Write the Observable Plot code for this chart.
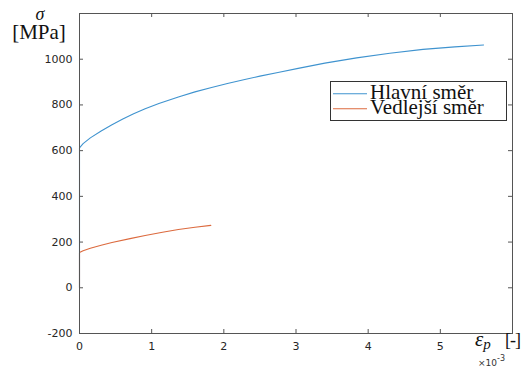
<!DOCTYPE html>
<html><head><meta charset="utf-8">
<script src="https://cdn.jsdelivr.net/npm/d3@7"></script>
<script src="https://cdn.jsdelivr.net/npm/@observablehq/plot@0.6"></script>
<style>body{margin:0;background:#fff} #chart{width:526px;height:374px}</style>
</head><body><div id="chart"></div>
<script>
// Series names and colours
const seriesNames = ["Hlavní směr", "Vedlejší směr"];
const seriesColors = ["#3f93cf", "#dc6a3e"];

// Hlavní směr: plastic strain (×10^-3) and stress (MPa)
const hlavniStrain = [0, 0, 0.05, 0.15, 0.3, 0.45, 0.6, 0.75, 0.91, 1.1, 1.37, 1.6, 1.83, 2.05, 2.29, 2.5, 2.75, 3.03, 3.4, 3.84, 4.3, 4.76, 5.2, 5.6];
const hlavniStress = [0, 612, 631, 656, 686, 713, 738, 761, 783, 806, 835, 857, 876, 894, 911, 926, 942, 960, 983, 1006, 1026, 1043, 1054, 1062];

// Vedlejší směr
const vedlejsiStrain = [0, 0, 0.05, 0.15, 0.3, 0.45, 0.7, 0.91, 1.15, 1.37, 1.6, 1.82];
const vedlejsiStress = [0, 154, 162, 173, 186, 198, 215, 229, 243, 255, 265, 273];

// Axis ticks
const xTicks = [0, 1, 2, 3, 4, 5];
const yTicks = [-200, 0, 200, 400, 600, 800, 1000];
const xDomain = [0, 6];
const yDomain = [-200, 1200];

const W = 526, H = 374, mL = 79, mR = 14, mT = 13, mB = 41;
const innerH = H - mT - mB, innerW = W - mL - mR;
const axisColor = "#555";
const tick = 4;

const hlavni = hlavniStrain.map((x, i) => ({x, y: hlavniStress[i]}));
const vedlejsi = vedlejsiStrain.map((x, i) => ({x, y: vedlejsiStress[i]}));

const plot = Plot.plot({
  width: W, height: H,
  marginLeft: mL, marginRight: mR, marginTop: mT, marginBottom: mB,
  style: {fontFamily: "DejaVu Sans", fontSize: "11px", color: "#262626", background: "#fff"},
  x: {domain: xDomain},
  y: {domain: yDomain},
  marks: [
    Plot.line(hlavni, {x: "x", y: "y", stroke: seriesColors[0], strokeWidth: 1.1}),
    Plot.line(vedlejsi, {x: "x", y: "y", stroke: seriesColors[1], strokeWidth: 1.1}),
    Plot.frame({stroke: axisColor}),
    Plot.ruleX(xTicks, {x: d => d, insetTop: innerH - tick, stroke: axisColor}),
    Plot.ruleX(xTicks, {x: d => d, insetBottom: innerH - tick, stroke: axisColor}),
    Plot.ruleY(yTicks, {y: d => d, insetRight: innerW - tick, stroke: axisColor}),
    Plot.ruleY(yTicks, {y: d => d, insetLeft: innerW - tick, stroke: axisColor}),
    Plot.axisX(xTicks, {anchor: "bottom", tickSize: 0, tickPadding: 9, label: null, tickFormat: d => String(d)}),
    Plot.axisY(yTicks, {anchor: "left", tickSize: 0, tickPadding: 7, label: null, tickFormat: d => String(d)})
  ]
});
document.getElementById("chart").appendChild(plot);

const svg = d3.select(plot);
const serif = "Liberation Serif";
// y label
svg.append("text").attr("x", 40).attr("y", 20).attr("text-anchor", "middle")
  .attr("font-family", serif).attr("font-style", "italic").attr("font-size", 18).attr("fill", "#111").text("σ");
svg.append("text").attr("x", 39).attr("y", 39).attr("text-anchor", "middle")
  .attr("font-family", serif).attr("font-size", 21).attr("fill", "#111").text("[MPa]");
// x label
const xl = svg.append("text").attr("x", 475).attr("y", 346).attr("text-anchor", "start")
  .attr("font-family", serif).attr("font-size", 21).attr("fill", "#111");
xl.append("tspan").attr("font-style", "italic").text("ε");
xl.append("tspan").attr("font-style", "italic").attr("font-size", 15).attr("dy", 3).text("p");
svg.append("text").attr("x", 505).attr("y", 346).attr("text-anchor", "start")
  .attr("font-family", serif).attr("font-size", 18).attr("letter-spacing", -1).attr("fill", "#111").text("[-]");
// exponent
const ex = svg.append("text").attr("x", 478).attr("y", 366).attr("text-anchor", "start")
  .attr("font-family", "DejaVu Sans").attr("font-size", 9).attr("fill", "#333");
ex.append("tspan").text("×10");
ex.append("tspan").attr("font-size", 8).attr("dy", -5).text("-3");

// legend
const lg = svg.append("g");
lg.append("rect").attr("x", 330.5).attr("y", 81.5).attr("width", 176).attr("height", 39)
  .attr("fill", "#fff").attr("stroke", "#333");
seriesNames.forEach((name, i) => {
  const yy = 93.7 + i * 15;
  lg.append("line").attr("x1", 333).attr("x2", 367).attr("y1", yy).attr("y2", yy)
    .attr("stroke", seriesColors[i]).attr("stroke-width", 1.1);
  lg.append("text").attr("x", 370).attr("y", yy + 5.2).attr("text-anchor", "start")
    .attr("font-family", serif).attr("font-size", 21).attr("fill", "#111").text(name);
});
</script>
</body></html>
